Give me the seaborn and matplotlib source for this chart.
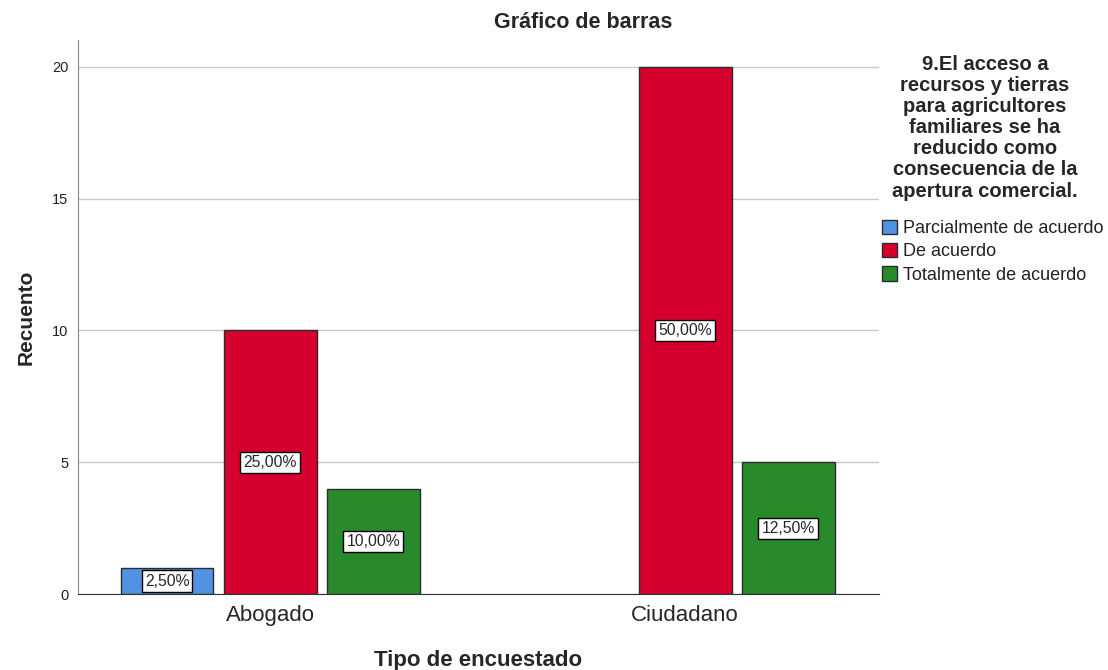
import pandas as pd
import matplotlib
matplotlib.use("Agg")
import matplotlib.pyplot as plt
import seaborn as sns

# data
tipo = ["Abogado", "Abogado", "Abogado", "Ciudadano", "Ciudadano"]
respuesta = ["Parcialmente de acuerdo", "De acuerdo", "Totalmente de acuerdo",
             "De acuerdo", "Totalmente de acuerdo"]
recuento = [1, 10, 4, 20, 5]
niveles = ["Parcialmente de acuerdo", "De acuerdo", "Totalmente de acuerdo"]
colores = ["#5193E2", "#D6002E", "#288A2B"]
total = 40
titulo_leyenda = ("9.El acceso a\nrecursos y tierras\npara agricultores\nfamiliares se ha\n"
                  "reducido como\nconsecuencia de la\napertura comercial.")

df = pd.DataFrame({"tipo": tipo, "respuesta": respuesta, "recuento": recuento})

sns.set_style("white")
plt.rcParams["font.family"] = ["Liberation Sans", "DejaVu Sans"]

fig, ax = plt.subplots(figsize=(11.08, 6.70), dpi=100)
fig.subplots_adjust(left=0.0704, right=0.7933, top=0.940, bottom=0.113)

sns.barplot(data=df, x="tipo", y="recuento", hue="respuesta", hue_order=niveles,
            order=["Abogado", "Ciudadano"], palette=colores, width=0.745, gap=0.1,
            edgecolor="#2b2b2b", linewidth=1, saturation=1, ax=ax)

for cont in ax.containers:
    labels = []
    for bar in cont:
        h = bar.get_height()
        labels.append(("%.2f%%" % (h / total * 100)).replace(".", ",") if h > 0 else "")
    ax.bar_label(cont, labels=labels, label_type="center", fontsize=11.3,
                 bbox=dict(boxstyle="square,pad=0.2", fc="white", ec="black", lw=1))

ax.set_xlim(-0.463, 1.467)
ax.set_ylim(0, 21)
ax.set_yticks([0, 5, 10, 15, 20])
ax.yaxis.grid(True, color="#c8c8c8", lw=1)
ax.set_axisbelow(True)
for s in ["top", "right"]:
    ax.spines[s].set_visible(False)
ax.spines["left"].set_color("#888888")
ax.spines["bottom"].set_color("#333333")
ax.tick_params(axis="x", labelsize=16, length=0, pad=8)
ax.tick_params(axis="y", labelsize=10.5, length=0, pad=7, colors="#222222")
ax.set_xlabel("Tipo de encuestado", fontsize=16, fontweight="bold", labelpad=17)
ax.set_ylabel("Recuento", fontsize=15, fontweight="bold", labelpad=12)

fig.text(0.526, 0.967, "Gráfico de barras", ha="center", va="center",
         fontsize=15.5, fontweight="bold")

# legend title drawn as its own text block, centred over the legend
fig.text(0.889, 0.918, titulo_leyenda, ha="center", va="top", fontsize=14.5,
         fontweight="bold", multialignment="center", linespacing=1.14)

leg = ax.legend(loc="upper left", bbox_to_anchor=(0.796, 0.672), bbox_transform=fig.transFigure,
                frameon=False, fontsize=13, handlelength=0.85, handleheight=0.85,
                handletextpad=0.3, labelspacing=0.32, borderpad=0.0, borderaxespad=0)
for t in leg.get_texts():
    t.set_color("#222222")

fig.savefig("out.png", dpi=100)
